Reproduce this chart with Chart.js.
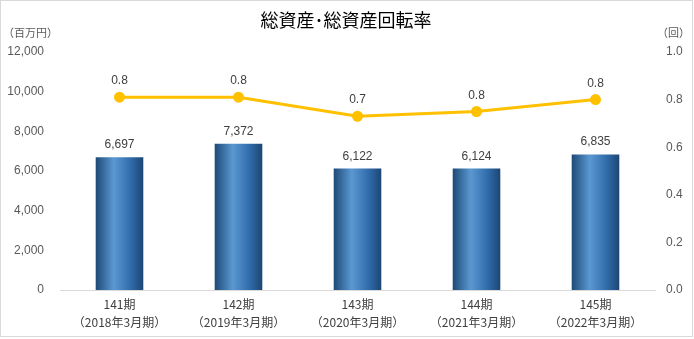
<!DOCTYPE html>
<html>
<head>
<meta charset="utf-8">
<script src="https://cdn.jsdelivr.net/npm/chart.js@4"></script>
<style>
html,body{margin:0;padding:0;background:#fff;}
#wrap{width:694px;height:339px;position:relative;}
</style>
</head>
<body>
<div id="wrap"><canvas id="c" width="694" height="339"></canvas></div>
<script>
const periods = ['141期', '142期', '143期', '144期', '145期'];
const fiscalYears = ['（2018年3月期）', '（2019年3月期）', '（2020年3月期）', '（2021年3月期）', '（2022年3月期）'];
const totalAssets = [6697, 7372, 6122, 6124, 6835];
const turnover = [0.81, 0.81, 0.73, 0.75, 0.80];
const leftTicks = [0, 2000, 4000, 6000, 8000, 10000, 12000];
const rightTicks = [0.0, 0.2, 0.4, 0.6, 0.8, 1.0];

const FONT = "'Liberation Sans', 'Noto Sans CJK JP', sans-serif";
const JFONT = "'Noto Sans CJK JP', 'Liberation Sans', sans-serif";

function barGradient(c) {
  const chart = c.chart;
  const xs = chart.scales.x;
  if (!chart.chartArea || !xs) return '#2e75b6';
  const cx = xs.getPixelForValue(c.dataIndex);
  const w = (chart.chartArea.right - chart.chartArea.left) / periods.length * 0.4;
  const g = chart.ctx.createLinearGradient(cx - w / 2, 0, cx + w / 2, 0);
  g.addColorStop(0, '#1d4a77');
  g.addColorStop(0.38, '#5b98d2');
  g.addColorStop(0.75, '#2f6aa8');
  g.addColorStop(1, '#1c4673');
  return g;
}

const decor = {
  id: 'decor',
  afterDraw(chart) {
    const ctx = chart.ctx;
    ctx.save();
    // outer border
    ctx.strokeStyle = '#d9d9d9';
    ctx.lineWidth = 1;
    ctx.strokeRect(0.5, 0.5, 692, 336);
    // title
    ctx.fillStyle = '#000';
    ctx.font = "18px " + JFONT;
    ctx.textAlign = 'center';
    ctx.textBaseline = 'middle';
    ctx.fillText('総資産･総資産回転率', 346, 20);
    // unit labels
    ctx.fillStyle = '#595959';
    ctx.font = "11px " + JFONT;
    ctx.textAlign = 'left';
    ctx.fillText('（百万円）', 3, 33);
    ctx.textAlign = 'right';
    ctx.fillText('（回）', 690, 33);
    // value labels
    ctx.fillStyle = '#404040';
    ctx.font = "12px " + FONT;
    ctx.textAlign = 'center';
    ctx.textBaseline = 'alphabetic';
    const barMeta = chart.getDatasetMeta(0);
    barMeta.data.forEach((el, i) => {
      ctx.fillText(totalAssets[i].toLocaleString('en-US'), el.x, el.y - 9);
    });
    const lineMeta = chart.getDatasetMeta(1);
    lineMeta.data.forEach((el, i) => {
      ctx.fillText(turnover[i].toFixed(1), el.x, el.y - 13);
    });
    ctx.restore();
  }
};

new Chart(document.getElementById('c'), {
  data: {
    labels: periods.map((p, i) => [p, fiscalYears[i]]),
    datasets: [
      {
        type: 'bar',
        data: totalAssets,
        yAxisID: 'y',
        backgroundColor: barGradient,
        borderWidth: 0,
        barPercentage: 0.4,
        categoryPercentage: 1.0,
        order: 1
      },
      {
        type: 'line',
        data: turnover,
        yAxisID: 'y1',
        borderColor: '#ffc000',
        backgroundColor: '#ffc000',
        borderWidth: 3,
        pointRadius: 4,
        pointBackgroundColor: '#ffc000',
        pointBorderColor: '#ffc000',
        tension: 0,
        order: 0
      }
    ]
  },
  options: {
    responsive: false,
    animation: false,
    layout: { padding: { top: 52, left: 0, right: 0, bottom: 0 } },
    plugins: { legend: { display: false }, tooltip: { enabled: false }, title: { display: false } },
    scales: {
      x: {
        grid: { display: false, drawTicks: false },
        border: { display: true, color: '#d9d9d9', width: 1 },
        ticks: { color: '#404040', font: { family: JFONT, size: 12, lineHeight: 1.55 }, padding: 5, maxRotation: 0, autoSkip: false },
        afterFit(s) { s.height = 49; }
      },
      y: {
        position: 'left',
        min: 0, max: 12000,
        afterBuildTicks(s) { s.ticks = leftTicks.map(v => ({ value: v })); },
        grid: { display: false, drawTicks: false },
        border: { display: false },
        ticks: { color: '#595959', font: { family: FONT, size: 12 }, padding: 16, callback: v => v.toLocaleString('en-US') },
        afterFit(s) { s.width = 60; }
      },
      y1: {
        position: 'right',
        min: 0, max: 1.0,
        afterBuildTicks(s) { s.ticks = rightTicks.map(v => ({ value: v })); },
        grid: { display: false, drawTicks: false },
        border: { display: false },
        ticks: { color: '#595959', font: { family: FONT, size: 12 }, padding: 11, callback: v => Number(v).toFixed(1) },
        afterFit(s) { s.width = 39; }
      }
    }
  },
  plugins: [decor]
});
</script>
</body>
</html>
